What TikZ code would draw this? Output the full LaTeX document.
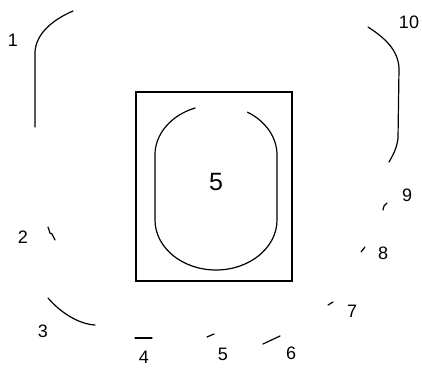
\documentclass[tikz,border=0pt]{standalone}
\usepackage{fontspec}
\setmainfont{Liberation Sans}
\begin{document}
\begin{tikzpicture}[x=1pt,y=-1pt,
  seg/.style={line width=1.2pt, line cap=round, line join=round},
  lab/.style={font=\fontsize{18}{18}\selectfont, inner sep=0pt},
  biglab/.style={font=\fontsize{25}{25}\selectfont, inner sep=0pt}]
\useasboundingbox (0,0) rectangle (422,372);
% outer pieces
\draw[seg] (73,11) .. controls (52,20) and (36,34) .. (35,52) -- (35,127);
\draw[seg] (368,27) .. controls (385,38) and (398,50) .. (399,68) -- (398,138) .. controls (397,148) and (393,155) .. (389,162);
\draw[seg] (48,227) -- (50,233) -- (52,234) -- (55,240);
\draw[seg] (48,298) .. controls (60,312) and (78,324) .. (95,325);
\draw[seg] (135,338) -- (152,338);
\draw[seg] (207,337) -- (214,334);
\draw[seg] (263,344) -- (280,336);
\draw[seg] (328,305) -- (333,302);
\draw[seg] (361,252) -- (365,247);
\draw[seg] (383,210) -- (384,206) -- (387,203);
% box
\node[draw, line width=1.2pt, minimum width=156pt, minimum height=189pt, inner sep=0pt] (box) at (214,186.5) {};
\draw[seg] (195.1,108) arc[start angle=-110, end angle=-180, x radius=61, y radius=50]
  -- (155,220) arc[start angle=180, end angle=0, x radius=61, y radius=50]
  -- (277,155) arc[start angle=0, end angle=-59, x radius=61, y radius=50];
\node[biglab] (c5) at (216,182) {5};
% labels
\node[lab] (l1) at (13,40) {1};
\node[lab] (l10) at (409,22) {10};
\node[lab] (l2) at (23,237) {2};
\node[lab] (l3) at (43,331) {3};
\node[lab] (l4) at (144,357) {4};
\node[lab] (l5) at (223,354) {5};
\node[lab] (l6) at (291,353) {6};
\node[lab] (l7) at (352,311) {7};
\node[lab] (l8) at (383,253) {8};
\node[lab] (l9) at (407,195) {9};
\end{tikzpicture}
\end{document}
